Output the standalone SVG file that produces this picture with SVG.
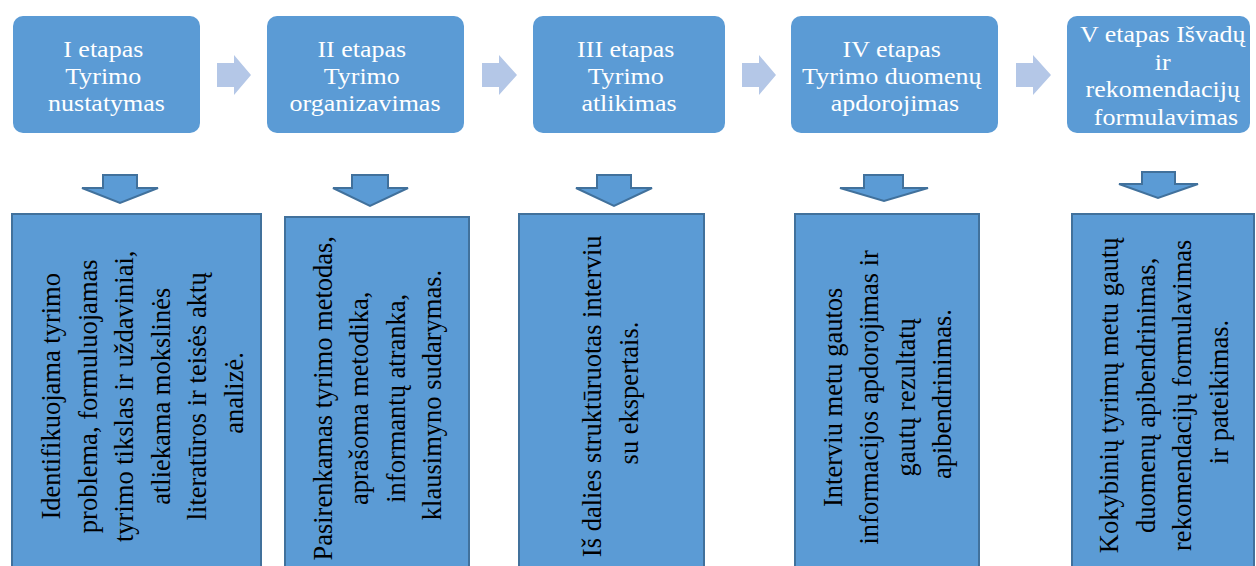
<svg xmlns="http://www.w3.org/2000/svg" width="1256" height="566" viewBox="0 0 1256 566">
  <style>
    .stage { fill: #5b9bd5; }
    .stage-text { font-family: "Liberation Serif", "Times New Roman", serif; font-size: 23px; fill: #ffffff; text-anchor: middle; }
    .task { fill: #5b9bd5; stroke: #41719c; stroke-width: 2; }
    .task-text { font-family: "Liberation Serif", "Times New Roman", serif; font-size: 26.5px; fill: #000000; text-anchor: middle; }
    .flow { fill: #b4c7e7; }
    .drop { fill: #5b9bd5; stroke: #41719c; stroke-width: 2; stroke-linejoin: miter; }
  </style>
  <rect width="1256" height="566" fill="#ffffff"/>

  <!-- stage boxes (top row) -->
  <g id="stage1">
    <rect class="stage" x="13" y="16" width="187" height="117" rx="10"/>
    <text class="stage-text" transform="translate(106.5 0) scale(1.13 1)">
      <tspan x="0" y="56.7">I etapas</tspan>
      <tspan x="0" y="84">Tyrimo</tspan>
      <tspan x="0" y="111">nustatymas</tspan>
    </text>
  </g>
  <g id="stage2">
    <rect class="stage" x="267" y="16" width="197" height="117" rx="10"/>
    <text class="stage-text" transform="translate(365 0) scale(1.13 1)">
      <tspan x="0" y="56.7">II etapas</tspan>
      <tspan x="0" y="84">Tyrimo</tspan>
      <tspan x="0" y="111">organizavimas</tspan>
    </text>
  </g>
  <g id="stage3">
    <rect class="stage" x="533" y="16" width="192" height="117" rx="10"/>
    <text class="stage-text" transform="translate(629 0) scale(1.13 1)">
      <tspan x="0" y="56.7">III etapas</tspan>
      <tspan x="0" y="84">Tyrimo</tspan>
      <tspan x="0" y="111">atlikimas</tspan>
    </text>
  </g>
  <g id="stage4">
    <rect class="stage" x="791" y="16" width="207" height="117" rx="10"/>
    <text class="stage-text" transform="translate(895 0) scale(1.13 1)">
      <tspan x="0" y="56.7">IV etapas</tspan>
      <tspan x="0" y="84">Tyrimo duomenų</tspan>
      <tspan x="0" y="111">apdorojimas</tspan>
    </text>
  </g>
  <g id="stage5">
    <rect class="stage" x="1067" y="16" width="183" height="117" rx="10"/>
    <text class="stage-text" transform="translate(1166 0) scale(1.13 1)">
      <tspan x="0" y="42.5">V etapas Išvadų</tspan>
      <tspan x="0" y="70">ir</tspan>
      <tspan x="0" y="97.5">rekomendacijų</tspan>
      <tspan x="0" y="125">formulavimas</tspan>
    </text>
  </g>

  <!-- task boxes (bottom row, vertical text) -->
  <g id="task1">
    <rect class="task" x="12" y="214" width="249" height="370"/>
    <text class="task-text" transform="rotate(-90)">
      <tspan x="-393" y="60">Identifikuojama tyrimo</tspan>
      <tspan x="-393" y="96.5">problema, formuluojamas</tspan>
      <tspan x="-393" y="133">tyrimo tikslas ir uždaviniai,</tspan>
      <tspan x="-393" y="169.5">atliekama mokslinės</tspan>
      <tspan x="-393" y="206">literatūros ir teisės aktų</tspan>
      <tspan x="-393" y="242.5">analizė.</tspan>
    </text>
  </g>
  <g id="task2">
    <rect class="task" x="285" y="217" width="184" height="370"/>
    <text class="task-text" transform="rotate(-90)">
      <tspan x="-395" y="331.5">Pasirenkamas tyrimo metodas,</tspan>
      <tspan x="-395" y="368">aprašoma metodika,</tspan>
      <tspan x="-395" y="404.5">informantų atranka,</tspan>
      <tspan x="-395" y="441">klausimyno sudarymas.</tspan>
    </text>
  </g>
  <g id="task3">
    <rect class="task" x="519" y="214" width="185" height="370"/>
    <text class="task-text" transform="rotate(-90)">
      <tspan x="-393" y="601">Iš dalies struktūruotas interviu</tspan>
      <tspan x="-393" y="637.5">su ekspertais.</tspan>
    </text>
  </g>
  <g id="task4">
    <rect class="task" x="795" y="214" width="184" height="370"/>
    <text class="task-text" transform="rotate(-90)">
      <tspan x="-394" y="841.5">Interviu metu gautos</tspan>
      <tspan x="-394" y="878">informacijos apdorojimas ir</tspan>
      <tspan x="-394" y="914.5">gautų rezultatų</tspan>
      <tspan x="-394" y="951">apibendrinimas.</tspan>
    </text>
  </g>
  <g id="task5">
    <rect class="task" x="1072" y="214" width="182" height="370"/>
    <text class="task-text" transform="rotate(-90)">
      <tspan x="-392" y="1118">Kokybinių tyrimų metu gautų</tspan>
      <tspan x="-392" y="1154.5">duomenų apibendrinimas,</tspan>
      <tspan x="-392" y="1191">rekomendacijų formulavimas</tspan>
      <tspan x="-392" y="1227.5">ir pateikimas.</tspan>
    </text>
  </g>

  <!-- connectors: block arrows between stages and down to tasks -->
  <g id="connectors">
    <polygon class="flow" points="217,63 234,63 234,55 251,75 234,95 234,87 217,87"/>
    <polygon class="flow" points="482,63 499,63 499,55 517,75 499,95 499,87 482,87"/>
    <polygon class="flow" points="742,63 759,63 759,55 776,75 759,95 759,87 742,87"/>
    <polygon class="flow" points="1016,63 1033,63 1033,55 1051,75 1033,95 1033,87 1016,87"/>

    <polygon class="drop" points="103,175 137,175 137,188 158,188 120,203 82,188 103,188"/>
    <polygon class="drop" points="352,175 388,175 388,188 408,188 370,206 333,188 352,188"/>
    <polygon class="drop" points="597,175 631,175 631,188 652,188 614,206 576,188 597,188"/>
    <polygon class="drop" points="864,175 903,175 903,188 928,188 884,201 840,188 864,188"/>
    <polygon class="drop" points="1142,172 1175,172 1175,184 1198,184 1158,198 1119,184 1142,184"/>
  </g>
</svg>
